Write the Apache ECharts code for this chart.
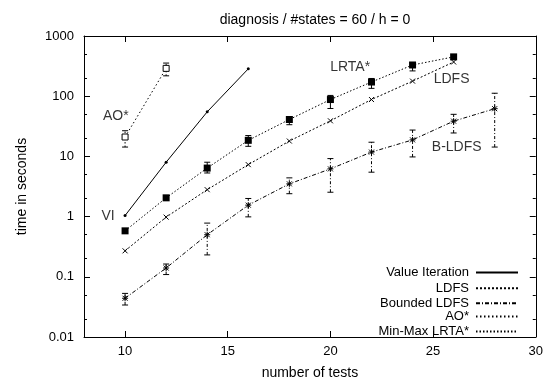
<!DOCTYPE html>
<html>
<head>
<meta charset="utf-8">
<script src="https://cdn.jsdelivr.net/npm/echarts@6/dist/echarts.min.js"></script>
<style>
  html, body { margin: 0; padding: 0; background: #fff; }
  #chart { width: 546px; height: 385px; }
</style>
</head>
<body>
<div id="chart"></div>
<script>
const FONT = "'Liberation Sans', Arial, sans-serif";

// number of tests
const xVI = [10, 12, 14, 16];
const xAO = [10, 12];
const xLRTA = [10, 12, 14, 16, 18, 20, 22, 24, 26];
const xLDFS = [10, 12, 14, 16, 18, 20, 22, 24, 26];
const xBLDFS = [10, 12, 14, 16, 18, 20, 22, 24, 26, 28];

// time in seconds
const viTime = [1.04, 8.0, 55, 285];
const aoTime = [21, 290];
const lrtaTime = [0.58, 2.05, 6.4, 18.5, 41, 88, 172, 330, 450];
const ldfsTime = [0.27, 0.98, 2.8, 7.3, 18, 39, 88, 178, 370];
const bldfsTime = [0.044, 0.14, 0.5, 1.55, 3.5, 6.2, 11.8, 18.8, 38.5, 62];

// error bars [x, low, high]
const aoErr = [[10, 14.3, 26.7], [12, 218, 355]];
const lrtaErr = [[14, 5.3, 8.0], [16, 14.7, 22.2], [18, 33.6, 45.7], [20, 62.5, 103],
                 [22, 135, 197], [24, 263, 359]];
const bldfsErr = [[10, 0.034, 0.053], [12, 0.109, 0.163], [14, 0.231, 0.78], [16, 0.99, 2.0],
                  [18, 2.4, 4.4], [20, 2.54, 9.2], [22, 5.47, 17.2], [24, 9.8, 27.4],
                  [26, 24.5, 50], [28, 14.3, 112]];

// axes ticks
const xTicks = [10, 15, 20, 25, 30];
const yTicks = [0.01, 0.1, 1, 10, 100, 1000];
const yMinor = [0.02, 0.05, 0.2, 0.5, 2, 5, 20, 50, 200, 500];

// in-plot labels [text, x, y]
const annotations = [["AO*", 9.55, 47], ["VI", 9.17, 1.0], ["LRTA*", 20.96, 300],
                     ["LDFS", 25.9, 195], ["B-LDFS", 26.15, 14.2]];

const names = ["Value Iteration", "LDFS", "Bounded LDFS", "AO*", "Min-Max LRTA*"];

const zip = (xs, ys) => xs.map((x, i) => [x, ys[i]]);

const crossPath = "path://M0,0L10,10M10,0L0,10";
const starPath = "path://M0,0L10,10M10,0L0,10M5,-1L5,11M-1,5L11,5";

function errSeries(data, dash) {
  return {
    type: "custom",
    data: data,
    silent: true,
    z: 3,
    renderItem: (params, api) => {
      const x = api.value(0);
      const lo = api.coord([x, api.value(1)]);
      const hi = api.coord([x, api.value(2)]);
      const w = 3;
      const st = { stroke: "#000", lineWidth: 1, lineDash: dash };
      return {
        type: "group",
        children: [
          { type: "line", shape: { x1: lo[0], y1: lo[1], x2: hi[0], y2: hi[1] }, style: st },
          { type: "line", shape: { x1: lo[0] - w, y1: lo[1], x2: lo[0] + w, y2: lo[1] }, style: { stroke: "#000", lineWidth: 1 } },
          { type: "line", shape: { x1: hi[0] - w, y1: hi[1], x2: hi[0] + w, y2: hi[1] }, style: { stroke: "#000", lineWidth: 1 } },
        ],
      };
    },
  };
}

const legendTops = [266, 281, 296, 310, 325];
const legends = names.map((n, i) => ({
  data: [n],
  right: 27,
  top: legendTops[i],
  padding: 0,
  align: "right",
  itemWidth: 42,
  itemHeight: 12,
  selectedMode: false,
  itemStyle: { opacity: 0 },
  textStyle: { fontFamily: FONT, fontSize: 13, color: "#000", padding: [0, 2, 0, 0] },
}));

const tickStyle = { color: "#000", fontFamily: FONT, fontSize: 13 };
const nameStyle = { color: "#000", fontFamily: FONT, fontSize: 14 };

const option = {
  animation: false,
  backgroundColor: "#fff",
  title: {
    text: "diagnosis / #states = 60 / h = 0",
    left: 310,
    textAlign: "center",
    top: 8,
    textStyle: { fontFamily: FONT, fontSize: 14, fontWeight: "normal", color: "#000" },
  },
  legend: legends,
  grid: { left: 84, right: 9, top: 36, bottom: 46 },
  xAxis: [
    {
      type: "value",
      min: 8,
      max: 30,
      name: "number of tests",
      nameLocation: "middle",
      nameGap: 29,
      nameTextStyle: nameStyle,
      axisLine: { lineStyle: { color: "#000", width: 1 } },
      axisTick: { inside: true, length: 6, customValues: xTicks, lineStyle: { color: "#000" } },
      axisLabel: { customValues: xTicks, margin: 8, ...tickStyle },
      splitLine: { show: false },
    },
    {
      type: "value",
      min: 8,
      max: 30,
      position: "top",
      axisLine: { lineStyle: { color: "#000", width: 1 } },
      axisTick: { inside: true, length: 6, customValues: xTicks, lineStyle: { color: "#000" } },
      axisLabel: { show: false },
      splitLine: { show: false },
    },
  ],
  yAxis: [
    {
      type: "log",
      min: 0.01,
      max: 1000,
      name: "time in seconds",
      nameLocation: "middle",
      nameGap: 55,
      nameTextStyle: nameStyle,
      axisLine: { lineStyle: { color: "#000", width: 1 } },
      axisTick: { inside: true, length: 6, customValues: yTicks, lineStyle: { color: "#000" } },
      axisLabel: { customValues: yTicks, margin: 10, formatter: (v) => String(v), ...tickStyle },
      splitLine: { show: false },
    },
    {
      type: "log",
      min: 0.01,
      max: 1000,
      position: "left",
      axisLine: { show: false },
      axisTick: { inside: true, length: 3, customValues: yMinor, lineStyle: { color: "#000" } },
      axisLabel: { show: false },
      splitLine: { show: false },
    },
    {
      type: "log",
      min: 0.01,
      max: 1000,
      position: "right",
      axisLine: { lineStyle: { color: "#000", width: 1 } },
      axisTick: { inside: true, length: 6, customValues: yTicks, lineStyle: { color: "#000" } },
      axisLabel: { show: false },
      splitLine: { show: false },
    },
    {
      type: "log",
      min: 0.01,
      max: 1000,
      position: "right",
      axisLine: { show: false },
      axisTick: { inside: true, length: 3, customValues: yMinor, lineStyle: { color: "#000" } },
      axisLabel: { show: false },
      splitLine: { show: false },
    },
  ],
  series: [
    {
      name: names[0],
      type: "line",
      data: zip(xVI, viTime),
      symbol: "circle",
      symbolSize: 3,
      itemStyle: { color: "#000" },
      lineStyle: { color: "#000", width: 1, type: "solid" },
      z: 4,
    },
    {
      name: names[1],
      type: "line",
      data: zip(xLDFS, ldfsTime),
      symbol: crossPath,
      symbolSize: 5,
      itemStyle: { color: "none", borderColor: "#000", borderWidth: 1 },
      lineStyle: { color: "#000", width: 1, type: [2, 2] },
      z: 4,
    },
    {
      name: names[2],
      type: "line",
      data: zip(xBLDFS, bldfsTime),
      symbol: starPath,
      symbolSize: 6,
      itemStyle: { color: "none", borderColor: "#000", borderWidth: 1 },
      lineStyle: { color: "#000", width: 1, type: [4, 2, 1, 2] },
      z: 4,
    },
    {
      name: names[3],
      type: "line",
      data: zip(xAO, aoTime),
      symbol: "rect",
      symbolSize: 6,
      itemStyle: { color: "#fff", borderColor: "#000", borderWidth: 1 },
      lineStyle: { color: "#000", width: 1, type: [1.5, 2.5] },
      z: 4,
    },
    {
      name: names[4],
      type: "line",
      data: zip(xLRTA, lrtaTime),
      symbol: "rect",
      symbolSize: 7,
      itemStyle: { color: "#000" },
      lineStyle: { color: "#000", width: 1, type: [1.5, 2] },
      z: 4,
    },
    errSeries(aoErr, [1.5, 2]),
    errSeries(lrtaErr, null),
    errSeries(bldfsErr, [3, 2, 1, 2]),
    {
      type: "scatter",
      data: annotations.map((a) => ({ value: [a[1], a[2]], name: a[0] })),
      symbolSize: 0,
      silent: true,
      label: {
        show: true,
        position: "inside",
        formatter: (p) => p.name,
        color: "#000",
        fontFamily: FONT,
        fontSize: 14,
      },
    },
  ],
};

const chart = echarts.init(document.getElementById("chart"), null, { renderer: "canvas" });
chart.setOption(option);
</script>
</body>
</html>
